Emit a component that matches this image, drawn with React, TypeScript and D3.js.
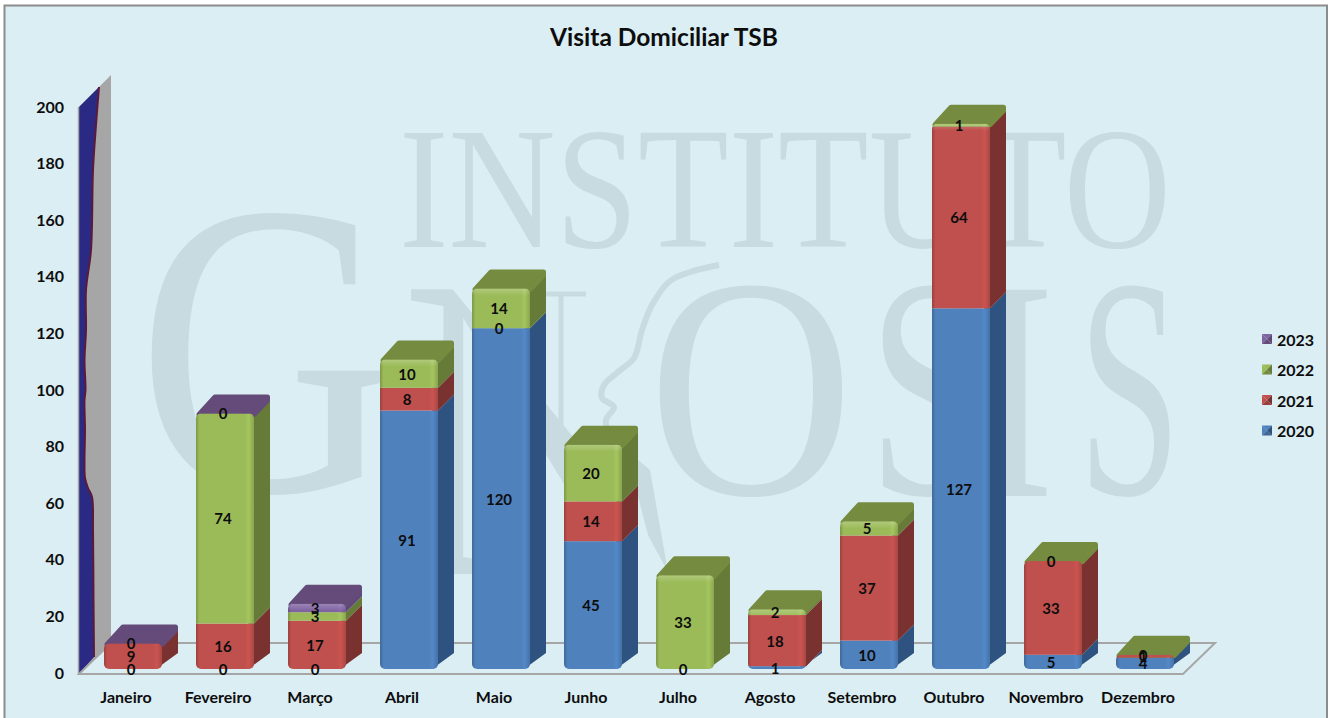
import React from 'react';
import * as d3 from 'd3';

const months = ['Janeiro', 'Fevereiro', 'Março', 'Abril', 'Maio', 'Junho', 'Julho', 'Agosto', 'Setembro', 'Outubro', 'Novembro', 'Dezembro'];
const years = ['2020', '2021', '2022', '2023'];

// null = no label/no value in the source sheet
const values2020 = [0, 0, 0, 91, 120, 45, 0, 1, 10, 127, 5, 4];
const values2021 = [9, 16, 17, 8, 0, 14, null, 18, 37, 64, 33, 1];
const values2022 = [null, 74, 3, 10, 14, 20, 33, 2, 5, 1, 0, 0];
const values2023 = [0, 0, 3, null, null, null, null, null, null, null, null, null];
const seriesValues = [values2020, values2021, values2022, values2023];

const yTicks = [0, 20, 40, 60, 80, 100, 120, 140, 160, 180, 200];

const frontColors = ['#4f81bd', '#c0504d', '#9bbb59', '#8064a2'];
const sideColors = ['#2f5380', '#7a3230', '#667b38', '#60497a'];
const topColors = ['#3f6797', '#99403d', '#758b40', '#654b7a'];

const font = 'Lato, "Open Sans", sans-serif';
const markColor = '#c8dbe0';
const depth = 16;
const barWidth = 58;

const table = months.map((m, i) => {
  const row: any = { month: m };
  years.forEach((y, k) => { row[y] = seriesValues[k][i] ?? 0; });
  return row;
});
const stacked = d3.stack().keys(years)(table);

const x = d3.scaleBand().domain(months).range([79, 1183]);
const y = d3.scaleLinear().domain([0, 200]).range([669, 101]);
const yAxis = d3.scaleLinear().domain([0, 200]).range([672, 106]);

const wallEdge: [number, number][] = [[99, 87], [96, 125], [93, 170], [91, 250], [86, 290], [86, 330], [84.5, 360], [85.5, 390], [84.5, 400], [85, 430], [84.5, 460], [85, 478], [88, 488], [92, 497], [93, 530], [93.5, 600], [94, 657]];
const wallLine = d3.line().curve(d3.curveCatmullRom);

const profile: [number, number][] = [[719, 265], [690, 272], [670, 281], [652, 305], [642, 330], [634, 358], [618, 372], [604, 385], [602, 398], [614, 407], [606, 420], [612, 445]];
const profileLine = d3.line().curve(d3.curveCatmullRom);

// the watermark letters are stretched one by one to the logo's shape
const gnosis = [
  { c: 'G', x: 137, base: 491, sx: 3.58, sy: 4.2 },
  { c: 'O', x: 648, base: 494, sx: 2.85, sy: 3.15 },
  { c: 'S', x: 868, base: 494, sx: 2.2, sy: 3.15 },
  { c: 'I', x: 972, base: 496, sx: 2.5, sy: 3.15 },
  { c: 'S', x: 1078, base: 494, sx: 1.85, sy: 3.15 },
];

const pyramid = (px: number, py: number, s: number, k: number) => {
  const c = [px + s / 2, py + s / 2];
  return [
    { pts: [[px, py], [px + s, py], c], fill: frontColors[k] },
    { pts: [[px, py], [px, py + s], c], fill: frontColors[k] },
    { pts: [[px + s, py], [px + s, py + s], c], fill: sideColors[k] },
    { pts: [[px, py + s], [px + s, py + s], c], fill: topColors[k] },
  ];
};

export default function App() {
  return (
    <svg width={1331} height={718} style={{ position: 'absolute', left: 0, top: 0, display: 'block' }}>
      <defs>
        {years.map((yr, k) => {
          const base = d3.color(frontColors[k])!;
          return (
            <linearGradient key={yr} id={'front' + k} x1="0" x2="1" y1="0" y2="0">
              <stop offset="0" stopColor={base.darker(0.6).formatHex()} />
              <stop offset="0.06" stopColor={frontColors[k]} />
              <stop offset="0.84" stopColor={frontColors[k]} />
              <stop offset="0.91" stopColor={base.brighter(0.15).formatHex()} />
              <stop offset="1" stopColor={base.darker(0.35).formatHex()} />
            </linearGradient>
          );
        })}
        <linearGradient id="bevel" x1="0" x2="0" y1="0" y2="1">
          <stop offset="0" stopColor="#fff" stopOpacity="0.22" />
          <stop offset="1" stopColor="#fff" stopOpacity="0" />
        </linearGradient>
        <clipPath id="markN">
          <polygon points="380,280 445,280 690,580 380,590" />
        </clipPath>
        {months.map((m, i) => {
          const total = d3.max(stacked, s => s[i][1])!;
          const bx = x(m)! + x.bandwidth() / 2 + 8 - barWidth / 2;
          return (
            <clipPath key={m} id={'bar' + i}>
              <rect x={bx} y={y(total)} width={barWidth} height={y(0) - y(total)} rx={5} />
            </clipPath>
          );
        })}
      </defs>

      <rect x={0} y={0} width={1331} height={718} fill="#fff" />
      <rect x={4.5} y={5.5} width={1322.5} height={720} fill="#dbeef4" stroke="#8c8c8c" strokeWidth={2} />

      {/* watermark */}
      <g fill={markColor} fontFamily='"Liberation Serif", serif'>
        <text x={399} y={247} fontSize={174} textLength={772} lengthAdjust="spacingAndGlyphs">INSTITUTO</text>
        {gnosis.map((g, i) => (
          <text key={i} transform={`translate(${g.x},${g.base}) scale(${g.sx},${g.sy})`} fontSize={100}>{g.c}</text>
        ))}
        <g clipPath="url(#markN)">
          <text transform="translate(400,574) scale(3.85,4.35)" fontSize={100}>N</text>
        </g>
        <path d="M523,294L586,294M561,294L561,470" fill="none" stroke={markColor} strokeWidth={5} />
        <path d={profileLine(profile)!} fill="none" stroke={markColor} strokeWidth={6} />
        <path d="M626,450L650,470L668,572L648,535Z" />
      </g>

      <text x={664} y={36} textAnchor="middle" dominantBaseline="central" fontFamily={font} fontWeight={700} fontSize={24.5} fill="#0d0d0d">Visita Domiciliar TSB</text>

      {/* back wall and floor */}
      <polygon points="79,674 111,643 111,75 99,87 79,107" fill="#a6a6a6" />
      <path d={'M79,107L' + wallEdge.map(p => p.join(',')).join('L') + 'L79,674Z'} fill="#2a2a84" />
      <path d={wallLine(wallEdge)!} fill="none" stroke="#5b1a3c" strokeWidth={2} />
      <line x1={78.5} x2={78.5} y1={107} y2={674} stroke="#a6a6a6" strokeWidth={1.5} />
      <polygon points="79,674 1183,674 1215,643 111,643" fill="none" stroke="#a6a6a6" strokeWidth={2} />

      {yTicks.map(t => (
        <text key={t} x={64} y={yAxis(t)} textAnchor="end" dominantBaseline="central" fontFamily={font} fontWeight={700} fontSize={16} fill="#0d0d0d">{t}</text>
      ))}
      {months.map(m => (
        <text key={m} x={x(m)! + x.bandwidth() / 2 + 1} y={696} textAnchor="middle" dominantBaseline="central" fontFamily={font} fontWeight={700} fontSize={16} fill="#0d0d0d">{m}</text>
      ))}

      {/* stacked bars */}
      {months.map((m, i) => {
        const bx = x(m)! + x.bandwidth() / 2 + 8 - barWidth / 2;
        const total = d3.max(stacked, s => s[i][1])!;
        const yt = y(total);
        let last = 0;
        seriesValues.forEach((vals, k) => { if (vals[i] !== null) last = k; });
        let topFront = 0;
        stacked.forEach((s, k) => { if (s[i][1] - s[i][0] > 0) topFront = k; });
        return (
          <g key={m}>
            {stacked.map((s, k) => {
              const y0 = y(s[i][0]);
              const y1 = y(s[i][1]);
              if (y0 === y1) return null;
              const rx = bx + barWidth;
              // the lowest block runs under the rounded front corner
              const foot = s[i][0] === 0 ? `${rx - 6},${y0}` : `${rx - 6},${y0} ${rx},${y0}`;
              return (
                <polygon key={k} points={`${foot} ${rx + depth},${y0 - depth} ${rx + depth},${y1 - depth} ${rx},${y1} ${rx - 6},${y1}`} fill={sideColors[k]} />
              );
            })}
            <path
              d={`M${bx + 3},${yt + 1}L${bx + depth + 3},${yt - 19 + 2.5}L${bx + barWidth + depth - 2.5},${yt - 19 + 2.5}L${bx + barWidth + depth - 2.5},${yt - depth + 3}L${bx + barWidth},${yt + 1}Z`}
              fill={topColors[last]} stroke={topColors[last]} strokeWidth={5} strokeLinejoin="round"
            />
            <g clipPath={`url(#bar${i})`}>
              {stacked.map((s, k) => {
                const y0 = y(s[i][0]);
                const y1 = y(s[i][1]);
                if (y0 === y1) return null;
                return <rect key={k} x={bx} y={y1} width={barWidth} height={y0 - y1} fill={`url(#front${k})`} />;
              })}
              {last === topFront && <rect x={bx} y={yt} width={barWidth} height={7} fill="url(#bevel)" />}
            </g>
          </g>
        );
      })}

      {/* value labels */}
      {stacked.map((s, k) => months.map((m, i) => {
        if (seriesValues[k][i] === null) return null;
        return (
          <text key={m + k} x={x(m)! + x.bandwidth() / 2 + 6} y={y((s[i][0] + s[i][1]) / 2)} textAnchor="middle" dominantBaseline="central" fontFamily={font} fontWeight={700} fontSize={15} fill="#0d0d0d">
            {seriesValues[k][i]}
          </text>
        );
      }))}

      {/* legend */}
      {years.slice().reverse().map((yr, n) => {
        const k = years.length - 1 - n;
        const ly = 339 + n * 30.5;
        return (
          <g key={yr}>
            {pyramid(1262, ly - 5, 10, k).map((t, j) => (
              <polygon key={j} points={t.pts.map(p => p.join(',')).join(' ')} fill={t.fill} />
            ))}
            <text x={1277} y={ly} dominantBaseline="central" fontFamily={font} fontWeight={700} fontSize={16} fill="#0d0d0d">{yr}</text>
          </g>
        );
      })}
    </svg>
  );
}
